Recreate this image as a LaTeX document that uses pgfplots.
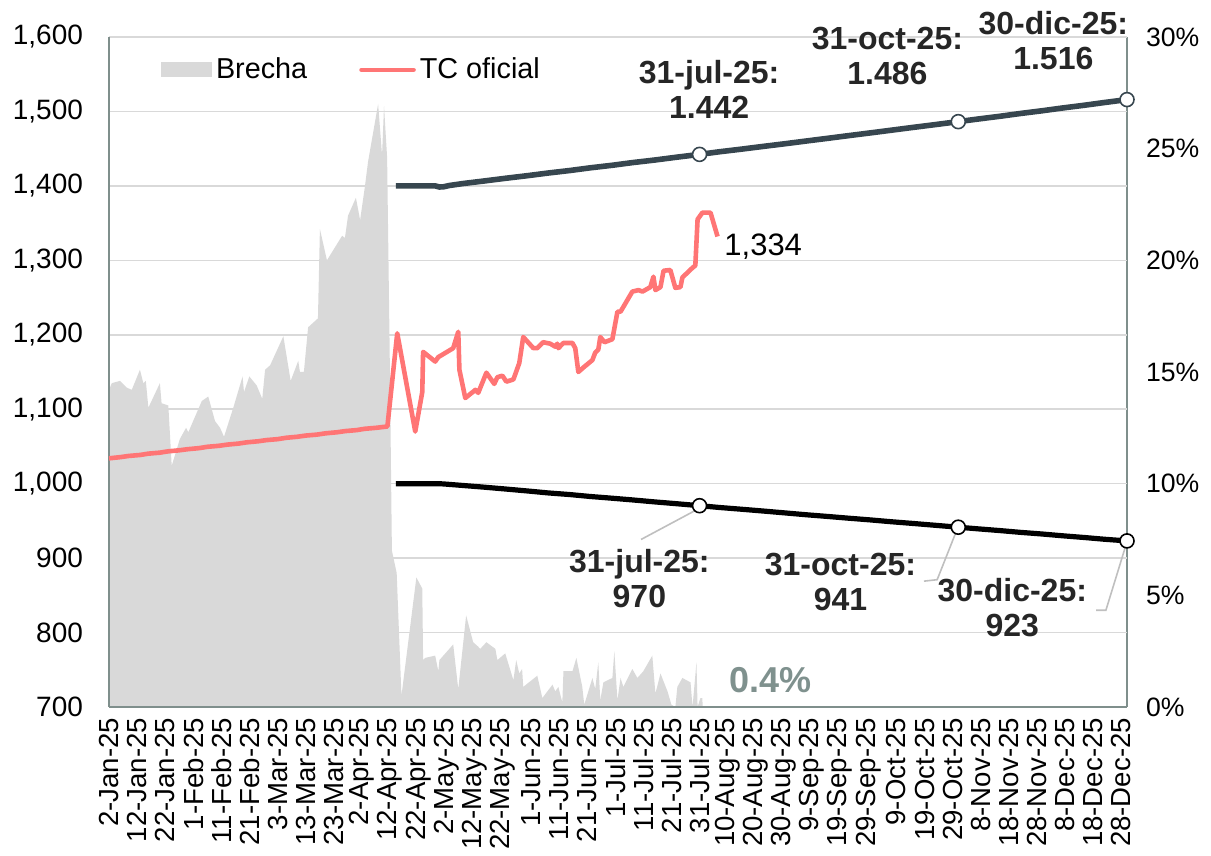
\documentclass[border=0pt]{standalone}
\usepackage{pgfplots}
\pgfplotsset{compat=1.18}
\usepackage{fontspec}
\setmainfont{Liberation Sans}
\definecolor{brecha}{RGB}{217,217,217}
\definecolor{tcred}{RGB}{255,117,117}
\definecolor{bandup}{RGB}{55,70,79}
\definecolor{axisc}{RGB}{127,143,140}
\definecolor{gridc}{RGB}{217,217,217}
\definecolor{annot}{RGB}{38,38,38}
\definecolor{lead}{RGB}{191,191,191}
\definecolor{pctc}{RGB}{127,145,142}
\begin{document}
\begin{tikzpicture}
\begin{axis}[name=right, scale only axis, width=509pt, height=335pt,
  xmin=2, xmax=364, ymin=0, ymax=30,
  axis x line=none, axis y line*=right,
  axis line style={draw=axisc, line width=0.9pt, -},
  ytick={0,5,...,30}, major tick length=0pt,
  /pgf/number format/assume math mode=true,
  yticklabel={\pgfmathprintnumber{\tick}\%},
  yticklabel style={font=\fontsize{13.3}{15}\selectfont, xshift=6pt},
]
\addplot[fill=brecha, draw=none] coordinates {
(2,14.2)(3.0,14.5)(5.9,14.6)(8.3,14.3)(10.1,14.2)(13.0,15.1)(14.2,14.5)(15.1,14.6)(16.0,13.4)
(20.1,14.5)(20.7,13.6)(23.1,13.5)(24.3,10.8)(27.2,12.0)(29.4,12.5)(30.2,12.3)(35.0,13.7)
(37.3,13.9)(39.7,12.8)(41.5,12.5)(42.9,12.1)(46.2,13.4)(49.5,14.8)(50.0,14.1)(51.9,14.8)
(54.5,14.4)(56.5,13.8)(57.5,15.1)(59.3,15.3)(64.0,16.6)(66.6,14.6)(69.3,15.5)(69.9,15.0)
(71.3,15.0)(72.8,17.0)(76.3,17.4)(77.0,21.4)(79.5,20.0)(84.9,21.1)(85.9,21.0)(87.0,22.0)
(89.8,22.8)(91.3,21.8)(93.0,23.3)(94.1,24.4)(97.7,27.0)(99.1,24.7)(99.8,26.9)(100.9,24.6)
(101.8,16.0)(102.6,7.0)(104.3,6.0)(106.0,0.5)(111.3,5.8)(113.4,5.3)(113.7,2.1)(114.5,2.2)
(118.0,2.3)(119.1,1.6)(119.5,2.1)(124.4,2.8)(126.2,0.8)(129.0,4.1)(131.5,2.9)(133.3,2.7)
(134.0,2.6)(136.2,2.9)(139.4,2.6)(140.1,2.1)(142.9,2.4)(145.8,1.2)(146.8,2.1)(147.9,1.5)
(148.9,1.7)(149.3,0.9)(154.3,1.4)(156.1,0.4)(159.7,1.0)(160.7,0.7)(161.8,0.9)(163.2,0.2)
(163.6,1.6)(166.8,1.6)(168.2,2.2)(170.3,0.9)(171.0,0.1)(173.9,1.3)(174.9,0.8)(176.0,2.0)
(176.7,0.3)(177.8,1.1)(181.0,1.3)(181.7,2.5)(182.8,0.3)(183.9,1.3)(184.9,0.9)(188.1,1.7)
(189.9,1.3)(192.0,1.6)(195.2,2.3)(196.3,0.6)(198.1,1.5)(200.6,0.7)(202.0,0.1)(203.4,0.0)
(204.1,0.9)(205.9,1.3)(208.8,1.1)(209.5,0.0)(210.9,2.0)(211.3,0.0)(212.3,0.4)(213.0,0.4)
(213.1,0.0)} \closedcycle;
\end{axis}
\begin{axis}[name=main, scale only axis, width=509pt, height=335pt,
  xmin=2, xmax=364, ymin=700, ymax=1600,
  axis x line*=bottom, axis y line*=left,
  axis line style={draw=axisc, line width=0.9pt, -},
  ytick={700,800,...,1600},
  ymajorgrids, grid style={gridc, line width=0.8pt},
  major tick length=0pt,
  xtick={2,12,...,362},
  xticklabels={2-Jan-25,12-Jan-25,22-Jan-25,1-Feb-25,11-Feb-25,21-Feb-25,3-Mar-25,13-Mar-25,23-Mar-25,2-Apr-25,12-Apr-25,22-Apr-25,2-May-25,12-May-25,22-May-25,1-Jun-25,11-Jun-25,21-Jun-25,1-Jul-25,11-Jul-25,21-Jul-25,31-Jul-25,10-Aug-25,20-Aug-25,30-Aug-25,9-Sep-25,19-Sep-25,29-Sep-25,9-Oct-25,19-Oct-25,29-Oct-25,8-Nov-25,18-Nov-25,28-Nov-25,8-Dec-25,18-Dec-25,28-Dec-25},
  xticklabel style={rotate=90, anchor=east, font=\fontsize{13.8}{15}\selectfont, xshift=-2pt},
  yticklabel style={font=\fontsize{14}{16}\selectfont, xshift=-9.5pt},
  /pgf/number format/assume math mode=true,
  /pgf/number format/1000 sep={,},
  clip=false,
  legend columns=2,
  legend style={at={(0.045,0.951)}, anchor=west, draw=none, fill=none,
    font=\fontsize{14.4}{16}\selectfont,
    /tikz/every even column/.append style={column sep=24pt}},
]
\addlegendimage{legend image code/.code={\fill[brecha] (0pt,-3.5pt) rectangle (25pt,3.5pt);}}
\addlegendentry{Brecha}
\addlegendimage{legend image code/.code={\draw[tcred, line width=2.3pt, line cap=round] (0pt,0pt) -- (26pt,0pt);}}
\addlegendentry{TC oficial}
\addplot[bandup, line width=2.8pt, forget plot] coordinates {
(104,1400)(110,1400)(116,1400)(118,1400)(119.5,1398.5)(121,1398.8)(123,1400.5)(128,1403.2)
(135,1406.4)(143,1410.2)(151,1413.8)(158,1417.2)(166,1420.7)(173,1424.2)(181,1427.7)
(188,1431.2)(196,1434.7)(204,1438.6)(212,1442.3)(219,1445.8)(227,1449.4)(235,1453.2)
(243,1456.9)(250,1460.3)(258,1464.1)(265,1467.5)(273,1471.3)(280,1474.7)(288,1478.6)
(296,1482.4)(304,1486.3)(311,1489.8)(319,1493.6)(326,1497.2)(334,1501.0)(341,1504.6)
(349,1508.4)(356,1512.0)(364,1515.9)};
\addplot[black, line width=2.6pt, forget plot] coordinates {
(104,1000)(110,1000)(116,1000)(120,999.8)(121,999.6)(128,997.5)(135,995.4)(143,992.8)
(151,990.1)(158,987.6)(166,985.3)(173,982.8)(181,980.4)(188,978.2)(196,975.5)(204,973.0)
(212,970.4)(219,968.0)(227,965.6)(235,963.1)(243,960.5)(250,958.2)(258,955.8)(265,953.6)
(273,951.2)(280,948.9)(288,946.5)(296,944.0)(304,941.5)(311,939.3)(319,936.9)(326,934.6)
(334,932.3)(341,930.0)(349,927.6)(356,925.3)(364,923.1)};
\addplot[tcred, line width=2.3pt, line join=round, forget plot] coordinates {
(2,1034.0)(6,1035.6)(9,1037.2)(13,1038.5)(16,1040.3)(20,1041.6)(23,1043.4)(27,1044.8)
(30,1046.3)(34,1047.7)(37,1049.5)(41,1050.8)(44,1052.4)(48,1053.8)(51,1055.5)(55,1056.9)
(58,1058.5)(62,1059.8)(65,1061.6)(69,1063.0)(72,1064.6)(76,1065.9)(79,1067.6)(83,1069.0)
(86,1070.6)(90,1071.9)(93,1073.7)(97,1075.0)(101,1076.8)
(104.5,1202)(110.9,1070)(113.4,1123)(113.7,1177)(118,1164)(119.1,1170)(124.4,1182)
(126.2,1204)(126.6,1153)(128.7,1115)(132.3,1126)(133.3,1122)(136.2,1149)(139,1134)
(140.1,1143)(141.9,1145)(143.3,1137)(145.8,1140)(147.9,1162)(149.3,1197)(152.9,1182)
(154.3,1182)(156.4,1190)(158.9,1188)(160.7,1184)(161.4,1188)(161.8,1182)(163.6,1189)
(166.8,1189)(167.8,1182)(168.9,1150)(170.7,1156)(173.9,1166)(174.9,1176)(176,1180)
(176.7,1197)(178.2,1190)(181,1194)(182.8,1231)(183.9,1231)(188.1,1258)(190.3,1260)
(191.7,1258)(194.5,1264)(195.6,1278)(196.3,1260)(198.1,1264)(199.2,1286)(201.6,1287)
(203.4,1263)(205.2,1264)(205.9,1277)(209.5,1290)(210.5,1293)(211.3,1355)(213,1364)
(215.9,1364)(218.4,1332)};
\draw[lead, line width=0.8pt] (axis cs:210.5,964) -- (axis cs:191.2,925);
\draw[lead, line width=0.8pt] (axis cs:303.2,935) -- (axis cs:296.5,871) -- (axis cs:291.8,869);
\draw[lead, line width=0.8pt] (axis cs:363.5,916) -- (axis cs:356.5,830) -- (axis cs:353,830);
\addplot[only marks, mark=*, mark size=3.5pt, mark options={fill=white, draw=bandup, line width=0.8pt}, forget plot]
  coordinates {(212,1442.3)(304,1486.3)(364,1515.9)};
\addplot[only marks, mark=*, mark size=3.5pt, mark options={fill=white, draw=black, line width=0.8pt}, forget plot]
  coordinates {(212,970.4)(304,941.5)(364,923.1)};
\tikzset{ann/.style={font=\bfseries\fontsize{16}{17.5}\selectfont, text=annot, align=center, inner sep=0pt}}
\node[ann] at (axis cs:215.4,1530) {31-jul-25:\\1.442};
\node[ann] at (axis cs:278.8,1575) {31-oct-25:\\1.486};
\node[ann] at (axis cs:337.8,1595) {30-dic-25:\\1.516};
\node[ann] at (axis cs:190.6,872) {31-jul-25:\\970};
\node[ann] at (axis cs:262.1,868) {31-oct-25:\\941};
\node[ann] at (axis cs:323.2,834) {30-dic-25:\\923};
\node[anchor=west, inner sep=0pt, font=\fontsize{15.5}{17}\selectfont] at (axis cs:220.7,1318) {1,334};
\node[inner sep=0pt, font=\bfseries\fontsize{18}{20}\selectfont, text=pctc] at (axis cs:237.4,736) {0.4\%};
\end{axis}
\pgfresetboundingbox
\path ([xshift=-54.5pt,yshift=-74.5pt]main.south west) rectangle ([xshift=42pt,yshift=18.5pt]main.north east);
\end{tikzpicture}
\end{document}
